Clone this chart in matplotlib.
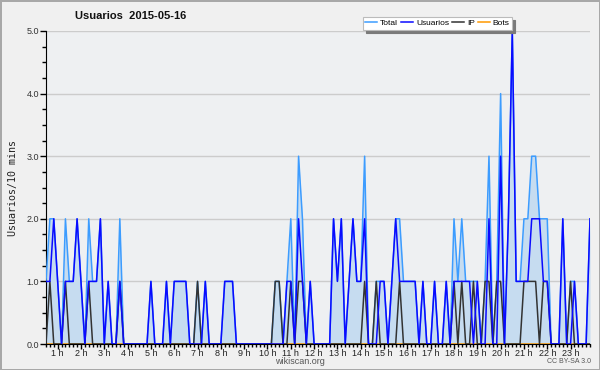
import numpy as np
import matplotlib
matplotlib.use("Agg")
import matplotlib.pyplot as plt
from matplotlib.ticker import MultipleLocator, FixedLocator

# 10-minute samples, first one at 00:30
start_hour = 0.5
usuarios = [1, 1, 2, 1, 0, 1, 1, 1, 2, 1,
            0, 1, 1, 1, 2, 0, 1, 0, 0, 1,
            0, 0, 0, 0, 0, 0, 0, 1, 0, 0,
            0, 1, 0, 1, 1, 1, 1, 0, 0, 0,
            0, 1, 0, 0, 0, 0, 1, 1, 1, 0,
            0, 0, 0, 0, 0, 0, 0, 0, 0, 0,
            0, 0, 1, 1, 0, 2, 1, 0, 1, 0,
            0, 0, 0, 0, 2, 1, 2, 0, 1, 2,
            1, 1, 2, 0, 0, 0, 1, 1, 0, 1,
            2, 1, 1, 1, 1, 1, 0, 1, 0, 0,
            1, 0, 0, 1, 0, 1, 1, 1, 1, 1,
            0, 1, 0, 0, 2, 0, 0, 3, 0, 2,
            5, 1, 1, 1, 1, 2, 2, 2, 1, 1,
            0, 0, 0, 2, 0, 0, 1, 0, 0, 0,
            2]
ip = [0, 1, 0, 0, 0, 1, 0, 0, 0, 0,
      0, 1, 0, 0, 0, 0, 0, 0, 0, 1,
      0, 0, 0, 0, 0, 0, 0, 0, 0, 0,
      0, 0, 0, 0, 0, 0, 0, 0, 0, 1,
      0, 0, 0, 0, 0, 0, 0, 0, 0, 0,
      0, 0, 0, 0, 0, 0, 0, 0, 0, 1,
      1, 0, 0, 1, 0, 1, 1, 0, 0, 0,
      0, 0, 0, 0, 0, 0, 0, 0, 0, 0,
      0, 0, 1, 0, 0, 1, 0, 0, 0, 0,
      0, 1, 0, 0, 0, 0, 0, 0, 0, 0,
      0, 0, 0, 0, 0, 1, 0, 1, 0, 0,
      1, 0, 0, 1, 1, 0, 1, 1, 0, 0,
      0, 0, 0, 1, 1, 1, 1, 0, 1, 1,
      0, 0, 0, 0, 0, 1, 0, 0, 0, 0,
      0]
total = [1, 2, 2, 1, 0, 2, 1, 1, 2, 1,
         0, 2, 1, 1, 2, 0, 1, 0, 0, 2,
         0, 0, 0, 0, 0, 0, 0, 1, 0, 0,
         0, 1, 0, 1, 1, 1, 1, 0, 0, 1,
         0, 1, 0, 0, 0, 0, 1, 1, 1, 0,
         0, 0, 0, 0, 0, 0, 0, 0, 0, 1,
         1, 0, 1, 2, 0, 3, 2, 0, 1, 0,
         0, 0, 0, 0, 2, 1, 2, 0, 1, 2,
         1, 1, 3, 0, 0, 1, 1, 1, 0, 1,
         2, 2, 1, 1, 1, 1, 0, 1, 0, 0,
         1, 0, 0, 1, 0, 2, 1, 2, 1, 1,
         1, 1, 0, 1, 3, 0, 1, 4, 0, 2,
         5, 1, 1, 2, 2, 3, 3, 2, 2, 2,
         0, 0, 0, 2, 0, 1, 1, 0, 0, 0,
         2]
bots = [0] * len(total)

hour_labels = [f"{h} h" for h in range(1, 24)]

x = start_hour + np.arange(len(total)) / 6.0

plt.rcParams["font.family"] = ["Liberation Sans", "DejaVu Sans"]

fig = plt.figure(figsize=(6.0, 3.7), dpi=100)
fig.patch.set_facecolor("#f0f0f0")
fig.patch.set_edgecolor("#a8a8a8")
fig.patch.set_linewidth(2)

ax = fig.add_axes([46 / 600, 26 / 370, 544 / 600, 313 / 370])
ax.set_facecolor("#eef0f2")

ax.fill_between(x, 0, total, color="#c6dcf0", lw=0, zorder=1)
ax.plot(x, bots, color="#ff9900", lw=1.1, zorder=2, label="Bots")
ax.plot(x, total, color="#3c9cff", lw=1.1, zorder=3, label="Total")
ax.plot(x, ip, color="#333333", lw=1.1, zorder=4, label="IP")
ax.plot(x, usuarios, color="#0a0aff", lw=1.1, zorder=5, label="Usuarios")

ax.set_xlim(x[0], x[-1])
ax.set_ylim(0, 5)

ax.yaxis.set_major_locator(MultipleLocator(1))
ax.yaxis.set_minor_locator(MultipleLocator(0.25))
ax.set_yticklabels([f"{v:.1f}" for v in ax.get_yticks()])
ax.xaxis.set_major_locator(FixedLocator(range(1, 24)))
ax.xaxis.set_minor_locator(MultipleLocator(1 / 6))
ax.set_xticklabels(hour_labels)

ax.grid(axis="y", which="major", color="#cccccc", lw=1, zorder=0)
ax.set_axisbelow(True)
for s in ["top", "right"]:
    ax.spines[s].set_visible(False)
ax.spines["left"].set_color("black")
ax.spines["bottom"].set_color("black")
ax.tick_params(axis="y", which="major", length=4, width=1, labelsize=6.5,
               colors="black", labelcolor="#333333", pad=1)
ax.tick_params(axis="y", which="minor", length=3, width=1, colors="black")
ax.tick_params(axis="x", which="major", length=3.5, width=1, labelsize=6.5,
               colors="black", labelcolor="#222222", pad=0)
ax.tick_params(axis="x", which="minor", length=2.5, width=1, colors="black")

ax.set_ylabel("Usuarios/10 mins", family="DejaVu Sans Mono", fontsize=7.2,
              color="#222222", labelpad=6)

fig.text(0.218, 0.957, "Usuarios  2015-05-16", ha="center", va="center",
         fontsize=8, fontweight="bold", color="#111111")
fig.text(0.5, 0.024, "wikiscan.org", ha="center", va="center",
         fontsize=6.5, color="#555555")
fig.text(0.985, 0.022, "CC BY-SA 3.0", ha="right", va="center",
         fontsize=5, color="#555555")

handles, labels = ax.get_legend_handles_labels()
order = [labels.index(n) for n in ["Total", "Usuarios", "IP", "Bots"]]
leg = fig.legend([handles[i] for i in order], [labels[i] for i in order],
                 loc="upper right", bbox_to_anchor=(512 / 600, 1 - 17 / 370),
                 ncol=4, fontsize=6, frameon=True, fancybox=False,
                 shadow={"color": "#7a7a7a", "alpha": 1, "ox": 2, "oy": -2},
                 handlelength=1.4, handletextpad=0.35, columnspacing=0.4,
                 borderpad=0.3, borderaxespad=0)
leg.get_frame().set_facecolor("white")
leg.get_frame().set_edgecolor("#bbbbbb")
leg.get_frame().set_linewidth(0.8)

fig.savefig("out.png", dpi=100, facecolor=fig.get_facecolor(),
            edgecolor=fig.get_edgecolor())
